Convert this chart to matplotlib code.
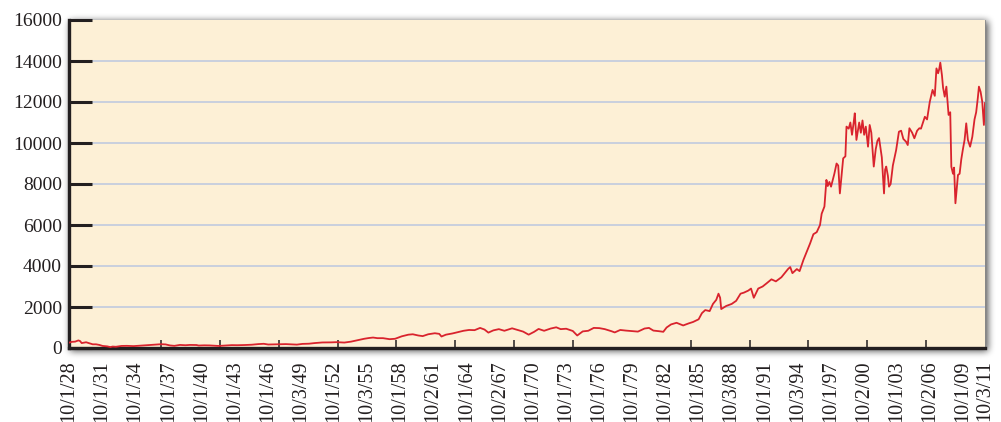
import numpy as np
import matplotlib
matplotlib.use("Agg")
import matplotlib.pyplot as plt

# ---- data (fractional year, index level) ----
years = [1928.75, 1929.0, 1929.3, 1929.6, 1929.75, 1929.9, 1930.3, 1930.6, 1930.9,
         1931.2, 1931.5, 1931.8, 1932.2, 1932.5, 1932.7, 1933.0, 1933.5, 1934.0,
         1934.6, 1935.0, 1935.5, 1936.0, 1936.5, 1937.1, 1937.5, 1937.9, 1938.3,
         1938.8, 1939.3, 1939.7, 1940.3, 1940.5, 1941.0, 1941.5, 1942.3, 1942.8,
         1943.5, 1944.0, 1944.7, 1945.3, 1945.9, 1946.4, 1946.8, 1947.5, 1948.4,
         1948.9, 1949.4, 1949.9, 1950.5, 1951.0, 1951.7, 1952.5, 1953.0, 1953.7,
         1954.3, 1954.9, 1955.5, 1955.9, 1956.3, 1956.7, 1957.2, 1957.8, 1958.3,
         1958.9, 1959.5, 1959.9, 1960.4, 1960.8, 1961.3, 1961.9, 1962.3, 1962.5,
         1962.9, 1963.5, 1963.9, 1964.5, 1965.0, 1965.5, 1966.0, 1966.4, 1966.75,
         1967.2, 1967.7, 1968.2, 1968.9, 1969.4, 1969.9, 1970.4, 1970.9, 1971.3,
         1971.8, 1972.4, 1972.9, 1973.3, 1973.8, 1974.4, 1974.8, 1975.3, 1975.8,
         1976.3, 1976.8, 1977.3, 1977.9, 1978.2, 1978.7, 1979.2, 1979.8, 1980.3,
         1980.9, 1981.3, 1981.7, 1982.2, 1982.6, 1982.9, 1983.3, 1983.8, 1984.4,
         1984.9, 1985.3, 1985.8, 1986.1, 1986.4, 1986.8, 1987.1, 1987.4, 1987.6,
         1987.75, 1987.85, 1988.3, 1988.8, 1989.2, 1989.6, 1989.9, 1990.3, 1990.55,
         1990.8, 1991.2, 1991.6, 1991.95, 1992.4, 1992.8, 1993.3, 1993.9, 1994.1,
         1994.3, 1994.7, 1994.95, 1995.3, 1995.6, 1995.9, 1996.2, 1996.5, 1996.8,
         1996.95, 1997.2, 1997.38, 1997.5, 1997.65, 1997.8, 1998.1, 1998.3, 1998.45,
         1998.6, 1998.9, 1999.1, 1999.2, 1999.4, 1999.55, 1999.7, 1999.85, 1999.95,
         2000.1, 2000.2, 2000.35, 2000.5, 2000.65, 2000.8, 2000.95, 2001.15, 2001.3,
         2001.45, 2001.67, 2001.85, 2002.0, 2002.15, 2002.4, 2002.6, 2002.7, 2002.8,
         2002.95, 2003.05, 2003.2, 2003.4, 2003.7, 2003.95, 2004.15, 2004.35, 2004.6,
         2004.75, 2004.9, 2005.15, 2005.35, 2005.6, 2005.8, 2005.95, 2006.3, 2006.5,
         2006.75, 2007.0, 2007.2, 2007.35, 2007.5, 2007.6, 2007.7, 2007.85, 2007.95,
         2008.1, 2008.25, 2008.45, 2008.6, 2008.7, 2008.85, 2008.95, 2009.07, 2009.3,
         2009.45, 2009.6, 2009.75, 2009.9, 2010.05, 2010.2, 2010.4, 2010.6, 2010.8,
         2010.95, 2011.1, 2011.2, 2011.35, 2011.5, 2011.65, 2011.75]
dow = [260, 300, 310, 370, 340, 240, 280, 230, 180,
       180, 150, 100, 80, 45, 70, 60, 100, 105,
       92, 105, 125, 145, 160, 185, 175, 125, 105,
       150, 135, 150, 145, 120, 130, 125, 100, 115,
       140, 136, 146, 160, 190, 205, 170, 180, 190,
       175, 165, 200, 210, 240, 270, 275, 285, 265,
       310, 380, 450, 485, 510, 480, 480, 430, 450,
       570, 650, 670, 610, 580, 670, 720, 690, 560,
       650, 710, 760, 840, 880, 870, 980, 900, 750,
       860, 920, 840, 960, 880, 800, 650, 790, 930,
       840, 950, 1010, 920, 940, 830, 610, 810, 840,
       980, 970, 920, 820, 760, 880, 850, 820, 800,
       950, 980, 850, 820, 790, 1000, 1150, 1230, 1100,
       1200, 1270, 1400, 1700, 1850, 1800, 2150, 2350, 2650,
       2450, 1900, 2050, 2150, 2300, 2650, 2700, 2800, 2900,
       2450, 2900, 3000, 3150, 3350, 3250, 3450, 3850, 3950,
       3650, 3850, 3750, 4300, 4700, 5100, 5550, 5650, 6000,
       6550, 6900, 8200, 7900, 8100, 7870, 8500, 9000, 8900,
       7540, 9250, 9350, 10800, 10700, 11000, 10400, 11000, 11450,
       10150, 10500, 11000, 10500, 11100, 10400, 10800, 9820, 10880,
       10500, 8850, 9700, 10100, 10240, 9300, 7540, 8700, 8850,
       8400, 7870, 8000, 8900, 9660, 10550, 10600, 10200, 10060,
       9900, 10720, 10500, 10230, 10600, 10720, 10700, 11280, 11150,
       12020, 12590, 12300, 13640, 13400, 13600, 13920, 13300, 12700,
       12260, 12750, 11370, 11500, 8845, 8500, 8800, 7060, 8440,
       8500, 9200, 9700, 10150, 10960, 10150, 9820, 10300, 11150,
       11500, 12200, 12750, 12500, 12020, 10880, 11950]

x_labels = ["10/1/28", "10/1/31", "10/1/34", "10/1/37", "10/1/40", "10/1/43",
            "10/1/46", "10/3/49", "10/1/52", "10/3/55", "10/1/58", "10/2/61",
            "10/1/64", "10/2/67", "10/1/70", "10/1/73", "10/1/76", "10/1/79",
            "10/1/82", "10/1/85", "10/3/88", "10/1/91", "10/3/94", "10/1/97",
            "10/2/00", "10/1/03", "10/2/06", "10/1/09", "10/3/11"]
y_ticks = [0, 2000, 4000, 6000, 8000, 10000, 12000, 14000, 16000]

x_start, x_end = 1928.75, 2011.75

W, H = 1001, 422
fig = plt.figure(figsize=(W / 100, H / 100), dpi=100)
fig.patch.set_facecolor("white")

L, R, T, B = 69, 985, 20, 348
ax = fig.add_axes([L / W, (H - B) / H, (R - L) / W, (B - T) / H])
ax.set_facecolor("#FDF0D6")

# soft drop shadow around the plot area (slightly offset down-right)
mask = np.zeros((H, W))
mask[T + 1:B + 3, L + 1:R + 3] = 1.0
def box(a, r, axis):
    c = np.cumsum(np.pad(a, [(r + 1, r) if i == axis else (0, 0) for i in range(2)], mode="edge"), axis=axis)
    n = a.shape[axis]
    sl_hi = [slice(None)] * 2
    sl_lo = [slice(None)] * 2
    sl_hi[axis] = slice(2 * r + 1, 2 * r + 1 + n)
    sl_lo[axis] = slice(0, n)
    return (c[tuple(sl_hi)] - c[tuple(sl_lo)]) / (2 * r + 1)
for _ in range(3):
    mask = box(mask, 3, 0)
    mask = box(mask, 3, 1)
rgba = np.zeros((H, W, 4))
rgba[..., 3] = mask * 0.7
fig.figimage(rgba, 0, 0, origin="upper", zorder=-1)

ax.plot(years, dow, color="#D9232D", lw=1.3, zorder=3, solid_joinstyle="round")

ax.set_xlim(x_start, x_end)
ax.set_ylim(0, 16000)

# y axis
ax.set_yticks(y_ticks)
ax.set_yticklabels([str(v) for v in y_ticks])
for v in y_ticks[1:-1]:
    ax.axhline(v, color="#C9D0DE", lw=1.4, zorder=1)
ax.tick_params(axis="y", direction="in", length=16.5, width=2.2, color="#231F20",
               pad=5, labelsize=14, labelcolor="#231F20")

# x axis labels every 3 years (+ final)
label_pos = [x_start + 3 * k for k in range(len(x_labels) - 1)] + [x_end]
ax.set_xticks(label_pos)
ax.set_xticklabels(x_labels, rotation=90, va="top", ha="center")
ax.tick_params(axis="x", which="major", length=0, pad=9, labelsize=14.5,
               labelcolor="#231F20")
minor_step = 64 / 12
minor_pos = np.arange(x_end, x_start + 1, -minor_step)
ax.set_xticks(minor_pos, minor=True)
ax.tick_params(axis="x", which="minor", direction="in", length=6, width=1.1,
               color="#231F20")

for lab in ax.get_xticklabels() + ax.get_yticklabels():
    lab.set_family("Liberation Serif")

ax.spines["top"].set_visible(False)
ax.spines["right"].set_linewidth(0.6)
ax.spines["right"].set_color("#8A8A8A")
ax.spines["left"].set_linewidth(2.4)
ax.spines["bottom"].set_linewidth(2.4)
ax.spines["left"].set_color("#231F20")
ax.spines["bottom"].set_color("#231F20")

fig.savefig("out.png", dpi=100)
